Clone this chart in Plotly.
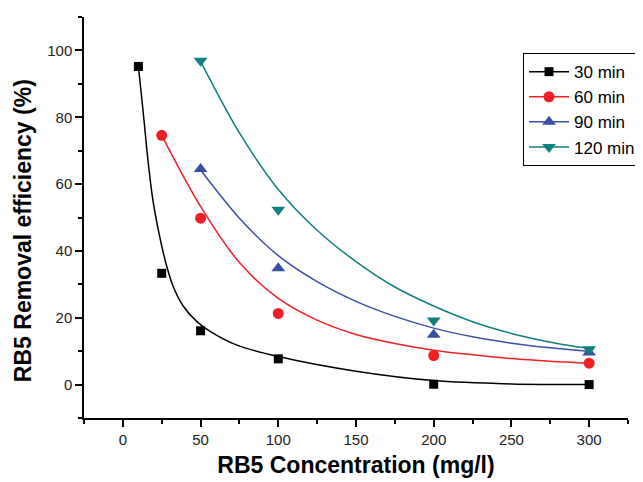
import plotly.graph_objects as go

# ---- data ----
series_names = ["30 min", "60 min", "90 min", "120 min"]
series_colors = ["#000000", "#EE2025", "#3A50A6", "#0F7F7F"]
series_symbols = ["square", "circle", "triangle-up", "triangle-down"]

# measured points
x_30 = [10, 25, 50, 100, 200, 300]
y_30 = [95.2, 33.3, 16.1, 7.7, 0.1, 0.0]
x_60 = [25, 50, 100, 200, 300]
y_60 = [74.6, 49.8, 21.3, 8.7, 6.4]
x_90 = [50, 100, 200, 300]
y_90 = [64.5, 34.8, 14.9, 9.6]
x_120 = [50, 100, 200, 300]
y_120 = [96.9, 52.3, 19.2, 10.6]

# fitted curves
fit_x_30 = [10, 12.9, 16.1, 19.3, 23.7, 28, 32.2, 38.7, 47.3, 55.9, 73.4, 100, 150, 200, 250, 300]
fit_y_30 = [95.2, 82.4, 67.4, 55.3, 44.3, 35.8, 29.6, 23.6, 19.0, 16.0, 11.8, 8.4, 4.0, 1.2, 0.2, 0.0]
fit_x_60 = [25, 50, 75, 100, 125, 150, 175, 200, 225, 250, 275, 300]
fit_y_60 = [74.6, 53.3, 36.5, 25.8, 19.3, 15.0, 12.3, 10.3, 8.9, 7.8, 7.0, 6.4]
fit_x_90 = [50, 75, 100, 125, 150, 175, 200, 225, 250, 275, 300]
fit_y_90 = [64.2, 49.8, 38.6, 30.8, 24.9, 20.4, 16.9, 14.3, 12.4, 11.0, 9.9]
fit_x_120 = [50, 75, 100, 125, 150, 175, 200, 225, 250, 275, 300]
fit_y_120 = [96.7, 75.3, 58.4, 46.2, 36.8, 29.2, 23.5, 18.8, 15.3, 12.7, 10.8]

x_ticks = [0, 50, 100, 150, 200, 250, 300]
y_ticks = [0, 20, 40, 60, 80, 100]

points = [(x_30, y_30), (x_60, y_60), (x_90, y_90), (x_120, y_120)]
fits = [(fit_x_30, fit_y_30), (fit_x_60, fit_y_60), (fit_x_90, fit_y_90), (fit_x_120, fit_y_120)]
marker_sizes = [9, 11, 12, 12]

FONT = "Liberation Sans, Arial, sans-serif"
fig = go.Figure()

for col, (fx, fy) in zip(series_colors, fits):
    fig.add_trace(go.Scatter(x=fx, y=fy, mode="lines",
                             line=dict(color=col, width=1.5, shape="spline", smoothing=0.9),
                             showlegend=False, hoverinfo="skip"))

for col, sym, ms, (px, py) in zip(series_colors, series_symbols, marker_sizes, points):
    fig.add_trace(go.Scatter(x=px, y=py, mode="markers", showlegend=False,
                             marker=dict(symbol=sym, color=col, size=ms, line=dict(width=0))))

for name, col, sym, ms in zip(series_names, series_colors, series_symbols, marker_sizes):
    fig.add_trace(go.Scatter(x=[None], y=[None], mode="lines+markers", name=name,
                             line=dict(color=col, width=1.5),
                             marker=dict(symbol=sym, color=col, size=ms, line=dict(width=0))))

axis_common = dict(showgrid=False, zeroline=False, showline=True, linecolor="black", linewidth=1.5,
                   ticks="outside", ticklen=7, tickwidth=1.5, tickcolor="black",
                   tickfont=dict(family=FONT, size=15, color="#222222"))

fig.update_xaxes(range=[-25, 325], tickvals=x_ticks, ticktext=[str(v) for v in x_ticks],
                 minor=dict(dtick=25, tick0=0, ticks="outside", ticklen=4, tickwidth=1.5, tickcolor="black"),
                 title=dict(text="<b>RB5 Concentration (mg/l)</b>",
                            font=dict(family=FONT, size=23, color="black"), standoff=10),
                 **axis_common)
fig.update_yaxes(range=[-10, 110], tickvals=y_ticks, ticktext=[str(v) for v in y_ticks],
                 minor=dict(dtick=10, tick0=0, ticks="outside", ticklen=4, tickwidth=1.5, tickcolor="black"),
                 **axis_common)

# y-axis title as a rotated annotation (sits a little below the plot centre in the reference)
fig.add_annotation(text="<b>RB5 Removal efficiency (%)</b>", textangle=-90,
                   xref="paper", yref="paper", x=0, y=0.466, xanchor="center", yanchor="middle",
                   xshift=-61, showarrow=False,
                   font=dict(family=FONT, size=23, color="black"))

# page body has an 8px margin, so the figure is drawn 8px in from the top-left
fig.update_layout(
    width=635, height=474,
    margin=dict(l=76, r=15, t=9, b=64, autoexpand=False),
    paper_bgcolor="white", plot_bgcolor="white",
    font=dict(family=FONT),
    legend=dict(x=0.807, y=0.91, xanchor="left", yanchor="top",
                bordercolor="black", borderwidth=1, bgcolor="white",
                font=dict(family=FONT, size=17, color="black"),
                itemwidth=40, tracegroupgap=0),
)

fig.write_html("out.html")
